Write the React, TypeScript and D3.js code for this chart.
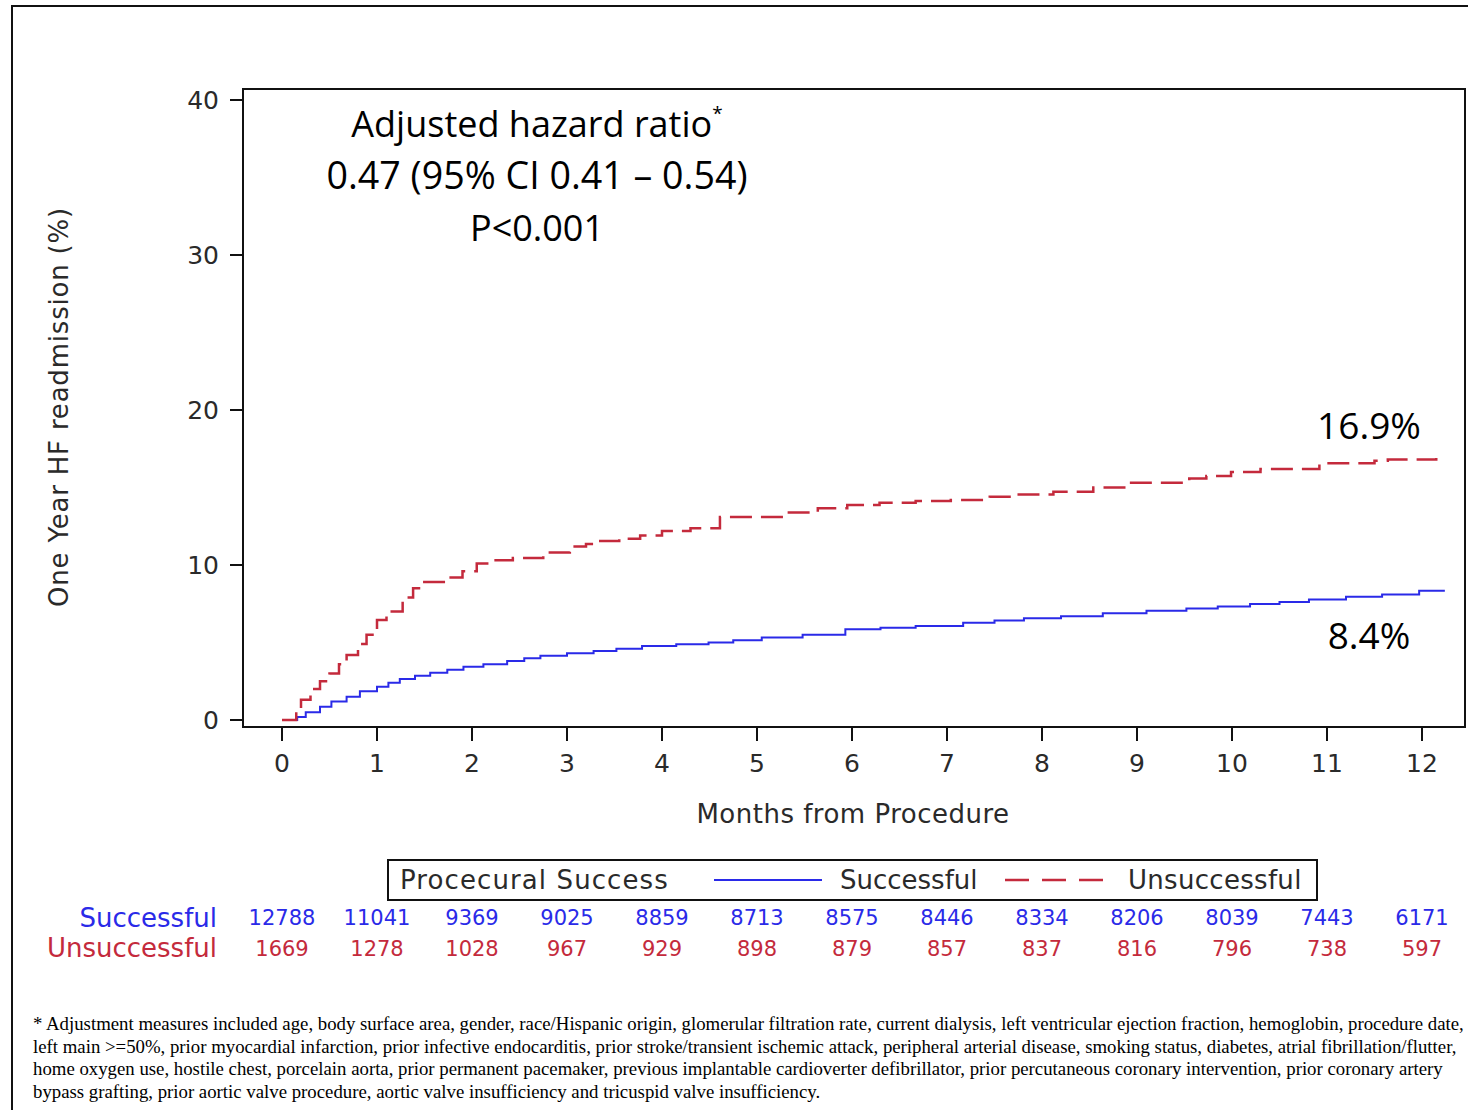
import React from "react";
import * as d3 from "d3";

// Kaplan-Meier style cumulative incidence
const successMonths = [0, 0.16, 0.25, 0.4, 0.52, 0.68, 0.82, 1.0, 1.12, 1.24, 1.4, 1.56, 1.74, 1.91, 2.12, 2.37, 2.55, 2.72, 3.0, 3.28, 3.52, 3.79, 4.15, 4.49, 4.75, 5.05, 5.48, 5.93, 6.3, 6.67, 7.17, 7.5, 7.81, 8.2, 8.64, 9.1, 9.52, 9.85, 10.19, 10.5, 10.81, 11.2, 11.58, 11.97, 12.23];
const successValues = [0, 0.2, 0.5, 0.86, 1.2, 1.5, 1.85, 2.15, 2.4, 2.64, 2.85, 3.05, 3.25, 3.44, 3.6, 3.8, 3.98, 4.15, 4.3, 4.45, 4.6, 4.77, 4.88, 5.0, 5.15, 5.33, 5.5, 5.85, 5.95, 6.06, 6.28, 6.42, 6.56, 6.7, 6.88, 7.05, 7.2, 7.33, 7.48, 7.62, 7.78, 7.95, 8.1, 8.34, 8.4];

const failMonths = [0, 0.15, 0.2, 0.3, 0.4, 0.5, 0.6, 0.68, 0.8, 0.89, 1.0, 1.1, 1.27, 1.38, 1.48, 1.73, 1.9, 2.05, 2.2, 2.43, 2.75, 3.03, 3.2, 3.35, 3.55, 3.77, 4.0, 4.3, 4.61, 5.3, 5.64, 5.95, 6.29, 6.67, 7.04, 7.45, 7.71, 8.12, 8.54, 8.9, 9.55, 9.73, 9.99, 10.3, 10.92, 11.5, 11.64, 12.15];
const failValues = [0, 0.65, 1.3, 2.0, 2.5, 3.0, 3.6, 4.2, 4.9, 5.5, 6.45, 7.0, 7.9, 8.5, 8.9, 9.2, 9.6, 10.1, 10.3, 10.45, 10.8, 11.2, 11.35, 11.55, 11.7, 11.9, 12.2, 12.37, 13.1, 13.38, 13.66, 13.87, 14.02, 14.13, 14.19, 14.4, 14.55, 14.73, 15.0, 15.3, 15.58, 15.74, 16.0, 16.2, 16.56, 16.73, 16.8, 16.9];

const yTicks = [0, 10, 20, 30, 40];
const xTicks = [0, 1, 2, 3, 4, 5, 6, 7, 8, 9, 10, 11, 12];

const atRiskSuccessful = [12788, 11041, 9369, 9025, 8859, 8713, 8575, 8446, 8334, 8206, 8039, 7443, 6171];
const atRiskUnsuccessful = [1669, 1278, 1028, 967, 929, 898, 879, 857, 837, 816, 796, 738, 597];

const footnoteLines = [
  "* Adjustment measures included age, body surface area, gender, race/Hispanic origin, glomerular filtration rate, current dialysis, left ventricular ejection fraction, hemoglobin, procedure date,",
  "left main >=50%, prior myocardial infarction, prior infective endocarditis, prior stroke/transient ischemic attack, peripheral arterial disease, smoking status, diabetes, atrial fibrillation/flutter,",
  "home oxygen use, hostile chest, porcelain aorta, prior permanent pacemaker, previous implantable cardioverter defibrillator, prior percutaneous coronary intervention, prior coronary artery",
  "bypass grafting, prior aortic valve procedure, aortic valve insufficiency and tricuspid valve insufficiency.",
];

const BLUE = "#2a2ae8";
const RED = "#c42a3c";
const AXIS_TEXT = "#2a2a2a";
const SAS_FONT = "'DejaVu Sans', Verdana, sans-serif";
const NOTE_FONT = "'Open Sans', 'Noto Sans', sans-serif";

export default function App() {
  const width = 1468;
  const height = 1110;
  const frame = { left: 243, top: 89, right: 1465, bottom: 727 };

  const x = d3.scaleLinear().domain([0, 12]).range([282, 1422]);
  const y = d3.scaleLinear().domain([0, 40]).range([720, 100]);

  const line = d3
    .line<[number, number]>()
    .x((d) => x(d[0]))
    .y((d) => y(d[1]))
    .curve(d3.curveStepAfter);

  const successPath = line(successMonths.map((m, i) => [m, successValues[i]]));
  const failPath = line(failMonths.map((m, i) => [m, failValues[i]]));

  return (
    <svg
      width={width}
      height={height}
      style={{ position: "absolute", left: 0, top: 0, display: "block", background: "#fff" }}
    >
      {/* outer slide frame */}
      <rect x={12} y={6} width={width} height={height} fill="none" stroke="#111" strokeWidth={2} />

      {/* plot frame */}
      <rect
        x={frame.left}
        y={frame.top}
        width={frame.right - frame.left}
        height={frame.bottom - frame.top}
        fill="none"
        stroke="#111"
        strokeWidth={2}
      />

      {/* y axis */}
      {yTicks.map((t) => (
        <g key={"y" + t}>
          <line x1={230} x2={frame.left} y1={y(t)} y2={y(t)} stroke="#111" strokeWidth={2} />
          <text
            x={219}
            y={y(t)}
            textAnchor="end"
            dominantBaseline="central"
            fontFamily={SAS_FONT}
            fontSize={25}
            fill={AXIS_TEXT}
          >
            {t}
          </text>
        </g>
      ))}
      <text
        transform={`translate(68,${407}) rotate(-90)`}
        textAnchor="middle"
        fontFamily={SAS_FONT}
        fontSize={26}
        letterSpacing={0.8}
        fill={AXIS_TEXT}
      >
        One Year HF readmission (%)
      </text>

      {/* x axis */}
      {xTicks.map((t) => (
        <g key={"x" + t}>
          <line x1={x(t)} x2={x(t)} y1={frame.bottom} y2={741} stroke="#111" strokeWidth={2} />
          <text
            x={x(t)}
            y={763}
            textAnchor="middle"
            dominantBaseline="central"
            fontFamily={SAS_FONT}
            fontSize={25}
            fill={AXIS_TEXT}
          >
            {t}
          </text>
        </g>
      ))}
      <text
        x={853}
        y={823}
        textAnchor="middle"
        fontFamily={SAS_FONT}
        fontSize={26}
        letterSpacing={0.5}
        fill={AXIS_TEXT}
      >
        Months from Procedure
      </text>

      {/* curves */}
      <path d={successPath ?? ""} fill="none" stroke={BLUE} strokeWidth={2} />
      <path d={failPath ?? ""} fill="none" stroke={RED} strokeWidth={2.5} strokeDasharray="22,9" />

      {/* annotations */}
      <g fontFamily={NOTE_FONT} fill="#000" textAnchor="middle">
        <text x={537} y={137} fontSize={36}>
          Adjusted hazard ratio<tspan fontSize={19} dy={-17}>*</tspan>
        </text>
        <text x={537} y={189} fontSize={37.6}>
          0.47 (95% CI 0.41 – 0.54)
        </text>
        <text x={537} y={241} fontSize={36}>
          P{"<"}0.001
        </text>
        <text x={1369} y={439} fontSize={37}>
          16.9%
        </text>
        <text x={1369} y={649} fontSize={37}>
          8.4%
        </text>
      </g>

      {/* legend */}
      <rect x={388} y={860} width={929} height={40} fill="none" stroke="#111" strokeWidth={2} />
      <g fontFamily={SAS_FONT} fontSize={26} fill={AXIS_TEXT}>
        <text x={400} y={889} letterSpacing={1.1}>
          Procecural Success
        </text>
        <line x1={714} x2={822} y1={880} y2={880} stroke={BLUE} strokeWidth={2} />
        <text x={840} y={889}>Successful</text>
        <line x1={1005} x2={1105} y1={880} y2={880} stroke={RED} strokeWidth={2.5} strokeDasharray="24,13" />
        <text x={1128} y={889} letterSpacing={0.3}>
          Unsuccessful
        </text>
      </g>

      {/* number at risk */}
      <text x={217} y={918} textAnchor="end" dominantBaseline="central" fontFamily={SAS_FONT} fontSize={26} fill={BLUE}>
        Successful
      </text>
      <text x={217} y={948} textAnchor="end" dominantBaseline="central" fontFamily={SAS_FONT} fontSize={26} fill={RED}>
        Unsuccessful
      </text>
      {atRiskSuccessful.map((n, i) => (
        <text
          key={"s" + i}
          x={x(xTicks[i])}
          y={918}
          textAnchor="middle"
          dominantBaseline="central"
          fontFamily={SAS_FONT}
          fontSize={21}
          fill={BLUE}
        >
          {n}
        </text>
      ))}
      {atRiskUnsuccessful.map((n, i) => (
        <text
          key={"u" + i}
          x={x(xTicks[i])}
          y={949}
          textAnchor="middle"
          dominantBaseline="central"
          fontFamily={SAS_FONT}
          fontSize={21}
          fill={RED}
        >
          {n}
        </text>
      ))}

      {/* footnote */}
      <g fontFamily="'Liberation Serif', 'Times New Roman', serif" fontSize={18.8} fill="#000">
        {footnoteLines.map((l, i) => (
          <text key={"f" + i} x={33} y={1030 + i * 22.5}>
            {l}
          </text>
        ))}
      </g>
    </svg>
  );
}
